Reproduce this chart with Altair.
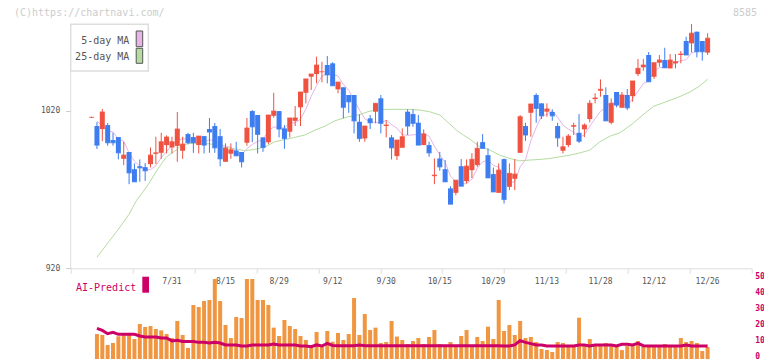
import altair as alt
import pandas as pd

# ---------------- data ----------------
label_idx = [15, 25, 35, 45, 55, 65, 75, 85, 95, 105, 115]
label_txt = ["7/31", "8/15", "8/29", "9/12", "9/30", "10/15", "10/29", "11/13", "11/28", "12/12", "12/26"]

open_p = [1015.8, 1010.3, 1008.4, 1010.9, 1001.4, 1003.3, 989.5, 993.8, 982.9, 984.8,
          984.2, 986.1, 992.7, 993.3, 998.2, 996.7, 997.7, 994.6, 1005.2, 1003.3,
          998.2, 1003.9, 1008.4, 1010.3, 1003.9, 987.6, 992.7, 994.8, 993.8, 999.7,
          1019.8, 1017.3, 1003.1, 1000.0, 1016.8, 1019.8, 1008.8, 1006.7, 1013.6, 1022.2,
          1031.4, 1041.6, 1043.3, 1044.8, 1049.0, 1050.1, 1033.6, 1034.9, 1030.0, 1030.0,
          1013.0, 1002.4, 1015.2, 1019.4, 1027.9, 1010.3, 1003.1, 991.2, 996.5, 1019.4,
          1017.9, 1012.4, 998.2, 998.2, 978.5, 989.7, 982.9, 970.7, 967.9, 984.8,
          975.3, 982.3, 985.5, 1000.1, 991.8, 979.8, 967.9, 989.3, 971.7, 976.8,
          993.3, 1010.3, 1018.7, 1030.0, 1024.7, 1019.4, 1019.2, 1010.3, 994.6, 998.2,
          1009.9, 1006.0, 1008.2, 1014.7, 1027.4, 1032.7, 1030.0, 1012.4, 1031.9, 1021.9,
          1030.0, 1029.3, 1043.3, 1047.6, 1055.4, 1041.6, 1050.5, 1052.2, 1046.9, 1050.1,
          1055.4, 1064.3, 1062.8, 1070.2, 1064.3, 1056.9]
high_p = [1016.2, 1012.8, 1021.1, 1012.2, 1006.0, 1003.3, 1000.3, 993.8, 986.6, 989.1,
          986.8, 996.7, 1003.5, 1006.0, 1004.4, 1003.5, 1019.2, 1003.5, 1006.0, 1006.0,
          1003.9, 1003.9, 1015.4, 1012.2, 1008.4, 999.3, 999.3, 1000.3, 993.8, 1015.4,
          1020.4, 1017.3, 1003.1, 1017.3, 1031.4, 1019.8, 1010.9, 1015.4, 1023.0, 1031.9,
          1040.2, 1043.3, 1054.3, 1051.1, 1054.8, 1050.8, 1038.2, 1034.9, 1030.0, 1030.0,
          1017.7, 1010.3, 1017.3, 1024.7, 1030.0, 1014.1, 1004.6, 1001.4, 1008.8, 1020.9,
          1020.9, 1017.3, 1008.2, 1000.3, 989.7, 993.9, 988.7, 972.1, 975.9, 989.3,
          989.1, 993.1, 1000.3, 1005.2, 996.1, 984.0, 986.6, 989.7, 986.6, 989.3,
          1017.3, 1012.4, 1024.3, 1031.1, 1024.7, 1024.7, 1020.9, 1012.4, 1003.5, 1005.2,
          1012.4, 1017.9, 1012.0, 1026.8, 1031.1, 1039.9, 1034.9, 1027.9, 1031.9, 1031.9,
          1033.8, 1038.9, 1052.9, 1052.9, 1057.3, 1050.5, 1055.4, 1060.0, 1056.0, 1056.0,
          1057.9, 1067.0, 1075.1, 1070.2, 1064.3, 1069.2]
low_p = [1015.4, 995.7, 1000.7, 997.8, 997.8, 989.1, 985.5, 973.4, 974.9, 974.9,
         975.5, 984.0, 986.1, 989.5, 992.9, 992.9, 987.6, 989.5, 998.8, 993.3,
         992.9, 992.9, 993.3, 993.3, 984.7, 987.6, 989.5, 991.4, 984.0, 997.8,
         1000.0, 992.9, 993.9, 998.8, 1015.6, 1003.1, 995.8, 1003.1, 1010.3, 1010.3,
         1024.7, 1033.2, 1037.4, 1038.1, 1037.4, 1035.9, 1031.1, 1015.2, 1018.7, 1005.6,
         1000.3, 1000.3, 1008.4, 1012.0, 1005.6, 1003.1, 989.1, 988.7, 996.5, 1004.6,
         1009.8, 998.2, 998.2, 990.8, 973.4, 981.9, 974.9, 960.7, 966.4, 972.1,
         973.8, 977.2, 984.4, 996.1, 977.4, 968.5, 967.9, 961.1, 969.6, 969.6,
         993.3, 1000.9, 1003.5, 1012.4, 1014.7, 1016.2, 1013.6, 997.1, 992.9, 996.9,
         1004.6, 999.5, 1003.3, 1012.6, 1024.7, 1028.9, 1013.6, 1011.4, 1022.2, 1021.9,
         1020.4, 1025.7, 1042.0, 1045.4, 1038.4, 1040.2, 1048.0, 1047.3, 1046.9, 1046.9,
         1050.1, 1055.4, 1057.1, 1053.9, 1051.8, 1055.4]
close_p = [1015.8, 998.2, 1019.2, 999.7, 999.7, 993.3, 991.8, 980.6, 974.9, 983.8,
           981.9, 991.8, 993.3, 1000.3, 1003.3, 1000.3, 1008.4, 998.8, 999.7, 999.7,
           1003.9, 998.2, 1006.5, 996.5, 989.5, 996.3, 995.2, 991.4, 987.6, 1009.0,
           1009.8, 1005.0, 996.7, 1017.3, 1019.8, 1008.4, 1002.4, 1015.4, 1015.4, 1031.9,
           1040.2, 1043.3, 1049.0, 1044.8, 1042.7, 1035.9, 1038.2, 1022.2, 1025.7, 1013.6,
           1002.4, 1010.3, 1012.4, 1024.7, 1012.0, 1010.9, 996.5, 1001.4, 1003.5, 1010.3,
           1012.0, 998.2, 1005.2, 993.3, 979.1, 984.4, 974.9, 960.7, 975.9, 972.1,
           984.8, 989.1, 996.1, 996.1, 977.4, 968.5, 982.3, 963.7, 980.2, 979.8,
           1016.2, 1004.6, 1024.3, 1021.5, 1016.8, 1021.1, 1016.8, 1002.8, 997.1, 1003.9,
           1010.6, 1000.7, 1010.9, 1024.7, 1028.1, 1033.6, 1013.6, 1024.7, 1023.6, 1030.0,
           1021.9, 1038.9, 1046.9, 1049.0, 1038.4, 1050.5, 1052.2, 1047.3, 1052.2, 1051.1,
           1056.0, 1055.4, 1069.2, 1057.5, 1057.5, 1066.0]

# 5-day MA, from the 2nd day on
ma5_p = [1013.5, 1010.3, 1007.1, 1006.5, 1002.0, 1000.7, 993.1, 988.0, 984.8, 982.6,
         982.6, 985.1, 990.2, 994.1, 997.8, 1001.1, 1002.2, 1002.1, 1001.4, 1002.1,
         1000.0, 1001.6, 1000.9, 998.9, 997.4, 996.8, 993.7, 991.9, 995.9, 998.6,
         1000.5, 1001.6, 1007.5, 1009.7, 1009.4, 1008.9, 1012.6, 1012.2, 1014.7, 1021.0,
         1029.2, 1036.0, 1041.9, 1044.0, 1043.1, 1042.1, 1036.8, 1033.0, 1027.1, 1020.4,
         1014.9, 1012.9, 1012.7, 1012.4, 1014.0, 1011.2, 1009.0, 1004.8, 1004.4, 1004.7,
         1005.1, 1005.8, 1003.8, 997.6, 992.0, 987.3, 978.4, 975.0, 973.6, 973.7,
         976.5, 983.6, 987.6, 988.7, 985.4, 984.1, 977.6, 974.4, 974.9, 984.4,
         988.9, 1001.0, 1009.3, 1016.7, 1017.6, 1020.1, 1015.8, 1010.9, 1008.4, 1006.3,
         1003.1, 1004.7, 1010.2, 1015.0, 1019.6, 1022.2, 1024.9, 1024.7, 1025.1, 1022.8,
         1027.8, 1032.3, 1037.3, 1039.1, 1044.8, 1047.5, 1047.5, 1048.2, 1050.7, 1051.8,
         1052.4, 1056.7, 1057.8, 1059.1, 1061.1]

# 25-day MA, points (day position, price)
ma25_day = [1, 3, 5, 7, 8.4, 9.6, 10.9, 12.1, 13.1, 14, 14.9, 15.9, 16.8, 17.7, 18.7, 19.9,
            21.1, 22.4, 23.6, 24.9, 26.1, 27.4, 28.6, 30.5, 32.4, 34.2, 36.1, 37.9, 39.8,
            41.7, 43.6, 45.4, 47.9, 49.8, 51.6, 52.9, 54.8, 59.4, 61.3, 63.1, 65, 66.9, 68.1,
            69.4, 70.6, 72.5, 74.4, 76.2, 78.1, 79.9, 81.8, 83.7, 85.6, 87.4, 89.3, 91.2, 93,
            94.9, 96.8, 98.6, 100.9, 102.9, 104.9, 107.2, 109.4, 111.7, 113.5, 115]
ma25_p = [927.0, 935.9, 944.8, 954.3, 963.2, 968.5, 974.9, 981.7, 986.6, 990.8, 992.9, 995.3,
          998.2, 998.8, 999.3, 999.7, 999.3, 998.8, 997.6, 996.7, 996.1, 995.5, 994.6, 995.5,
          997.1, 1000.3, 1001.8, 1003.1, 1004.6, 1007.7, 1010.3, 1013.6, 1016.2, 1017.3,
          1019.4, 1020.4, 1020.9, 1020.9, 1020.4, 1019.4, 1017.3, 1011.5, 1007.7, 1004.6,
          1002.0, 997.1, 995.0, 991.8, 989.7, 988.2, 988.7, 989.1, 989.7, 990.8, 991.8,
          993.3, 995.0, 1000.3, 1003.9, 1006.0, 1011.5, 1017.3, 1022.8, 1025.7, 1028.4,
          1031.9, 1035.7, 1040.0]

# volume panel (from the 2nd day on), right-hand scale
vol = [15.6, 15, 8.75, 10, 14.2, 15, 16.25, 12.5, 21.9, 20,
       20.6, 18.75, 17.9, 15.6, 13.1, 23.75, 15, 6.9, 33.75, 32.5,
       36.25, 36.9, 50, 36.25, 21.25, 13.1, 26.25, 25.6, 50, 50,
       36.9, 36.9, 33.75, 19.6, 14.4, 24.4, 20.6, 18.75, 14.4, 11.9,
       7.7, 16.9, 7.7, 17.5, 10.8, 16.25, 11.9, 15.6, 38.1, 15,
       28.1, 18.1, 19.6, 10, 10.6, 23.75, 14, 11.9, 9.4, 11.25,
       13.1, 9.4, 13.75, 18.1, 9.4, 8.75, 10.6, 8.1, 14.4, 18.1,
       8.1, 13.75, 11.25, 20.2, 12.5, 36.9, 17.5, 21.25, 15, 23.75,
       13.1, 13.75, 10.6, 6.25, 5.6, 4.4, 10.6, 10, 7.5, 8.1,
       25.8, 8.1, 12.5, 8.75, 8.75, 10, 9.4, 7.5, 5.6, 8.1,
       8.1, 11.25, 7.5, 7.5, 7.5, 7.5, 9.4, 8.75, 8.1, 13.1,
       10.6, 11.25, 10, 5, 7.5]
ai = [19.2, 17.9, 15.8, 16.7, 15.4, 15.4, 15.4, 15.4, 14.4, 13.8,
      13.8, 13.8, 13.1, 13.1, 11.3, 11.7, 11.0, 11.0, 11.0, 10.4,
      10.4, 10.0, 10.4, 10.0, 8.8, 8.8, 8.8, 8.1, 8.1, 8.8,
      8.8, 8.8, 8.8, 9.4, 8.8, 8.8, 8.8, 8.8, 8.1, 8.1,
      7.7, 8.8, 8.1, 9.8, 8.5, 8.3, 8.3, 8.3, 8.3, 8.8,
      8.3, 8.3, 8.3, 8.3, 8.3, 8.3, 8.3, 8.3, 8.3, 8.3,
      8.3, 8.3, 8.3, 8.3, 8.3, 8.3, 8.3, 8.3, 8.3, 8.3,
      8.3, 8.3, 8.3, 8.3, 8.3, 8.3, 8.1, 8.1, 8.8, 11.5,
      10.4, 9.6, 8.8, 8.8, 8.1, 8.1, 8.1, 8.1, 8.1, 8.1,
      8.8, 8.8, 8.1, 8.8, 8.8, 8.8, 8.8, 8.1, 9.2, 9.2,
      8.8, 9.8, 8.3, 8.1, 8.1, 8.1, 8.1, 8.1, 8.1, 8.1,
      8.8, 8.1, 8.1, 8.1, 8.1]

# ---------------- styling ----------------
RED = "#f05242"
BLUE = "#3d7df0"
ORANGE = "#f09640"
CRIMSON = "#cc0066"
PINK = "#e8b4e8"
GREEN = "#b4dca0"
FONT = "DejaVu Sans Mono"
W, H = 681, 347

n = len(open_p)
candles = pd.DataFrame({"idx": list(range(n)), "open": open_p, "high": high_p,
                        "low": low_p, "close": close_p})
candles["dir"] = ["up" if c >= o else "down" for o, c in zip(open_p, close_p)]
ma5_df = pd.DataFrame({"idx": list(range(1, 1 + len(ma5_p))), "ma": ma5_p})
ma25_df = pd.DataFrame({"idx": ma25_day, "ma": ma25_p})
vol_df = pd.DataFrame({"idx": list(range(1, 1 + len(vol))), "vol": vol})
ai_df = pd.DataFrame({"idx": list(range(1, 1 + len(ai))), "ai": ai})
lab_df = pd.DataFrame({"idx": label_idx, "label": label_txt})
one = pd.DataFrame({"k": [0]})

X_DOM = [-3.9, 123.23]
xticks = [X_DOM[0] + k * (X_DOM[1] - X_DOM[0]) / 11 for k in range(12)]
xscale = alt.Scale(domain=X_DOM, nice=False, zero=False, padding=0)
xaxis = alt.Axis(values=xticks, labels=False, title=None, grid=False, tickSize=5,
                 tickColor="#dddddd", domainColor="#dddddd", offset=-90.7)
X = alt.X("idx:Q", scale=xscale, axis=xaxis)

pscale = alt.Scale(domain=[862.4, 1082.7], nice=False, zero=False, padding=0)
paxis = alt.Axis(values=[920, 1020], format="d", title=None, grid=False, domain=False,
                 tickSize=5, tickColor="#cccccc", labelColor="#555555", labelFont=FONT,
                 labelFontSize=8, labelPadding=6)
vscale = alt.Scale(domain=[0, 216.9], nice=False, zero=True, padding=0)
vaxis = alt.Axis(orient="right", values=[0, 10, 20, 30, 40, 50], title=None, grid=False,
                 domain=False, ticks=False, labelColor=CRIMSON, labelFont=FONT,
                 labelFontSize=8, labelFontWeight="bold", labelPadding=3, labelOffset=-3)

COLOR = alt.Color("dir:N", scale=alt.Scale(domain=["up", "down"], range=[RED, BLUE]), legend=None)

# ---------------- price panel ----------------
axis_line = alt.Chart(pd.DataFrame({"lo": [920], "hi": [1075]})).mark_rule(
    color="#dddddd", strokeWidth=1).encode(
    x=alt.value(0), y=alt.Y("lo:Q", scale=pscale, axis=paxis), y2="hi:Q")
ma25_line = alt.Chart(ma25_df).mark_line(color=GREEN, strokeWidth=1).encode(
    x=X, y=alt.Y("ma:Q", scale=pscale, axis=paxis))
ma5_line = alt.Chart(ma5_df).mark_line(color=PINK, strokeWidth=1).encode(
    x=X, y=alt.Y("ma:Q", scale=pscale, axis=paxis))
wicks = alt.Chart(candles).mark_rule(strokeWidth=1).encode(
    x=X, y=alt.Y("low:Q", scale=pscale, axis=paxis), y2="high:Q", color=COLOR)
bodies = alt.Chart(candles).mark_bar(size=5, orient="vertical").encode(
    x=X, y=alt.Y("open:Q", scale=pscale, axis=paxis), y2="close:Q", color=COLOR)
dashes = alt.Chart(candles).mark_tick(orient="horizontal", size=5, thickness=1.2).encode(
    x=X, y=alt.Y("close:Q", scale=pscale, axis=paxis), color=COLOR)
price_layer = alt.layer(axis_line, ma25_line, ma5_line, wicks, bodies, dashes)

# ---------------- volume / AI panel ----------------
date_labels = alt.Chart(lab_df).mark_text(font=FONT, fontSize=8, color="#555555",
                                          baseline="middle").encode(
    x=X, y=alt.value(270), text="label:N")
vol_bars = alt.Chart(vol_df).mark_bar(size=4, color=ORANGE).encode(
    x=X, y=alt.Y("vol:Q", scale=vscale, axis=vaxis))
ai_line = alt.Chart(ai_df).mark_line(color=CRIMSON, strokeWidth=3).encode(
    x=X, y=alt.Y("ai:Q", scale=vscale, axis=vaxis))
volume_layer = alt.layer(date_labels, vol_bars, ai_line)

# ---------------- decorations ----------------
def txt(label, x, y, color, size=10, align="left"):
    return alt.Chart(one).mark_text(text=label, font=FONT, fontSize=size, color=color,
                                    align=align, baseline="middle").encode(
        x=alt.value(x), y=alt.value(y))

def box(x, x2, y, y2, fill, stroke=None, sw=1):
    kw = {"fill": fill}
    if stroke:
        kw.update(stroke=stroke, strokeWidth=sw)
    return alt.Chart(one).mark_rect(**kw).encode(
        x=alt.value(x), x2=alt.value(x2), y=alt.value(y), y2=alt.value(y2))

deco = alt.layer(
    box(0, 77.6, 12.3, 59, "white", "#dddddd", 1.5),
    txt("5-day MA", 58.6, 28.7, "#555555", align="right"),
    txt("25-day MA", 58.6, 45.3, "#555555", align="right"),
    box(65.5, 72, 19, 34.7, PINK, "#555555", 1),
    box(65.5, 72, 36.3, 51.3, GREEN, "#555555", 1),
    txt("(C)https://chartnavi.com/", -56.7, 0.5, "#cccccc"),
    txt("8585", 686.3, 0.5, "#cccccc", align="right"),
    txt("AI-Predict", 5.3, 275.5, CRIMSON),
    box(71.6, 78.3, 264.7, 280.7, CRIMSON),
)

# total SVG width kept at 756 px so the page container never shrinks it
chart = alt.layer(price_layer, volume_layer, deco).resolve_scale(y="independent").properties(
    width=W, height=H,
    padding={"left": 62.7, "top": 4, "right": 12.3, "bottom": 1},
    autosize=alt.AutoSizeParams(type="none"),
    background="white",
).configure_view(stroke=None)

chart.save("out.html", embed_options={"renderer": "svg", "actions": False})
